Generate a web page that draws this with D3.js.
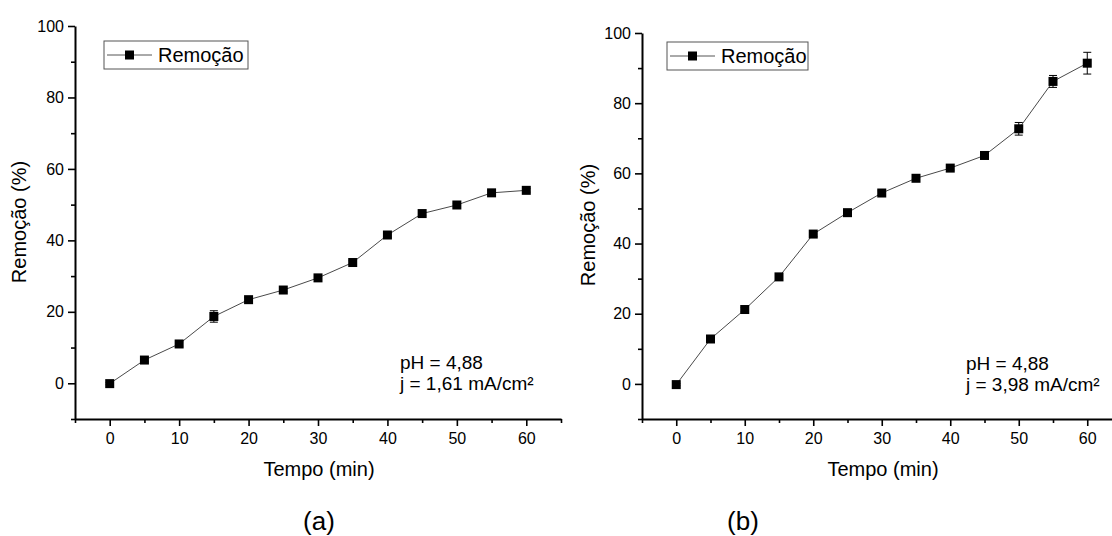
<!DOCTYPE html>
<html>
<head>
<meta charset="utf-8">
<script src="https://cdn.jsdelivr.net/npm/d3@7"></script>
<style>
  body { margin: 0; background: #fff; }
  svg { display: block; font-family: Arial, "Liberation Sans", sans-serif; }
  .axis path, .axis line { stroke: #000; }
  .axis path { stroke-width: 2; }
  .axis line { stroke-width: 1.6; }
  .axis text { font-size: 16px; fill: #000; font-family: Arial, "Liberation Sans", sans-serif; }
</style>
</head>
<body>
<svg id="chart" width="1112" height="536"></svg>
<script>
// tempo (min)
var tempo = [0, 5, 10, 15, 20, 25, 30, 35, 40, 45, 50, 55, 60];
// (a) j = 1,61 mA/cm2
var remocaoA = [-0.1, 6.5, 11.0, 18.7, 23.4, 26.1, 29.5, 33.8, 41.5, 47.5, 49.9, 53.3, 54.0];
var erroA = [0.3, 0.5, 0.6, 1.6, 0.6, 0.5, 0.6, 0.5, 0.6, 0.6, 0.5, 0.6, 0.5];
// (b) j = 3,98 mA/cm2
var remocaoB = [-0.2, 12.8, 21.2, 30.5, 42.7, 48.8, 54.4, 58.6, 61.5, 65.1, 72.7, 86.2, 91.4];
var erroB = [0.3, 0.5, 0.6, 0.6, 0.7, 0.5, 0.6, 0.5, 0.6, 0.7, 1.8, 1.7, 3.1];

var xMajor = [0, 10, 20, 30, 40, 50, 60];
var xMinor = [-5, 5, 15, 25, 35, 45, 55, 65];
var yMajor = [0, 20, 40, 60, 80, 100];
var yMinor = [-10, 10, 30, 50, 70, 90];

var svg = d3.select("#chart");
var ms = 9; // marker size

function drawPanel(p) {
    var x = d3.scaleLinear().domain([-5, 65]).range(p.xr);
    var y = d3.scaleLinear().domain([-10, 100]).range(p.yr);
    var g = svg.append("g");

    // minor ticks
    g.append("g").attr("class", "axis")
        .attr("transform", "translate(0," + p.yr[0] + ")")
        .call(d3.axisBottom(x).tickValues(xMinor).tickSize(4).tickFormat(""))
        .select(".domain").remove();
    g.append("g").attr("class", "axis")
        .attr("transform", "translate(" + p.xr[0] + ",0)")
        .call(d3.axisLeft(y).tickValues(yMinor).tickSize(4).tickFormat(""))
        .select(".domain").remove();

    // major axes
    g.append("g").attr("class", "axis")
        .attr("transform", "translate(0," + p.yr[0] + ")")
        .call(d3.axisBottom(x).tickValues(xMajor).tickSize(7).tickPadding(7).tickSizeOuter(0));
    g.append("g").attr("class", "axis")
        .attr("transform", "translate(" + p.xr[0] + ",0)")
        .call(d3.axisLeft(y).tickValues(yMajor).tickSize(7).tickPadding(4).tickSizeOuter(0));

    var line = d3.line()
        .x(function(d, i) { return x(tempo[i]); })
        .y(function(d) { return y(d); });

    g.append("path")
        .datum(p.values)
        .attr("d", line)
        .attr("fill", "none")
        .attr("stroke", "#4a4a4a")
        .attr("stroke-width", 1);

    // error bars
    var eb = g.selectAll(".err").data(p.values).enter().append("g");
    eb.append("line")
        .attr("x1", function(d, i) { return x(tempo[i]); })
        .attr("x2", function(d, i) { return x(tempo[i]); })
        .attr("y1", function(d, i) { return y(d - p.err[i]); })
        .attr("y2", function(d, i) { return y(d + p.err[i]); })
        .attr("stroke", "#000").attr("stroke-width", 1);
    [-1, 1].forEach(function(s) {
        eb.append("line")
            .attr("x1", function(d, i) { return x(tempo[i]) - 4; })
            .attr("x2", function(d, i) { return x(tempo[i]) + 4; })
            .attr("y1", function(d, i) { return y(d + s * p.err[i]); })
            .attr("y2", function(d, i) { return y(d + s * p.err[i]); })
            .attr("stroke", "#000").attr("stroke-width", 1);
    });

    g.selectAll(".pt").data(p.values).enter().append("rect")
        .attr("x", function(d, i) { return x(tempo[i]) - ms / 2; })
        .attr("y", function(d) { return y(d) - ms / 2; })
        .attr("width", ms).attr("height", ms)
        .attr("fill", "#000");

    // legend
    var lg = g.append("g").attr("transform", "translate(" + p.leg[0] + "," + p.leg[1] + ")");
    lg.append("rect").attr("x", 0).attr("y", 0).attr("width", p.legW).attr("height", 28)
        .attr("fill", "#fff").attr("stroke", "#555").attr("stroke-width", 1);
    lg.append("line").attr("x1", 3).attr("x2", 48).attr("y1", 14).attr("y2", 14)
        .attr("stroke", "#555").attr("stroke-width", 1);
    lg.append("rect").attr("x", 21).attr("y", 9.5).attr("width", ms).attr("height", ms).attr("fill", "#000");
    lg.append("text").attr("x", 54).attr("y", 20.5).attr("font-size", 20).text("Remoção");

    // axis titles
    g.append("text")
        .attr("x", p.titleX)
        .attr("y", 476)
        .attr("text-anchor", "middle")
        .attr("font-size", 20)
        .text("Tempo (min)");
    g.append("text")
        .attr("transform", "translate(" + p.yTitle[0] + "," + p.yTitle[1] + ") rotate(-90)")
        .attr("text-anchor", "middle")
        .attr("font-size", 20)
        .text("Remoção (%)");

    // conditions
    var note = g.append("text").attr("font-size", 19);
    note.append("tspan").attr("x", p.note[0]).attr("y", p.note[1]).text("pH = 4,88");
    note.append("tspan").attr("x", p.note[0]).attr("y", p.note[1] + 21).text(p.j);

    svg.append("text")
        .attr("x", p.label[0]).attr("y", 530)
        .attr("text-anchor", "middle")
        .attr("font-size", 26)
        .text(p.labelText);
}

drawPanel({
    xr: [75, 561], yr: [419, 26],
    values: remocaoA, err: erroA,
    leg: [104, 41], legW: 144,
    titleX: 319,
    yTitle: [26, 222],
    note: [400, 369], j: "j = 1,61 mA/cm²",
    label: [319, 530], labelText: "(a)"
});

drawPanel({
    xr: [642, 1121.5], yr: [419, 33],
    values: remocaoB, err: erroB,
    leg: [667, 42], legW: 141,
    titleX: 883,
    yTitle: [595, 225],
    note: [966, 370], j: "j = 3,98 mA/cm²",
    label: [743, 530], labelText: "(b)"
});
</script>
</body>
</html>
